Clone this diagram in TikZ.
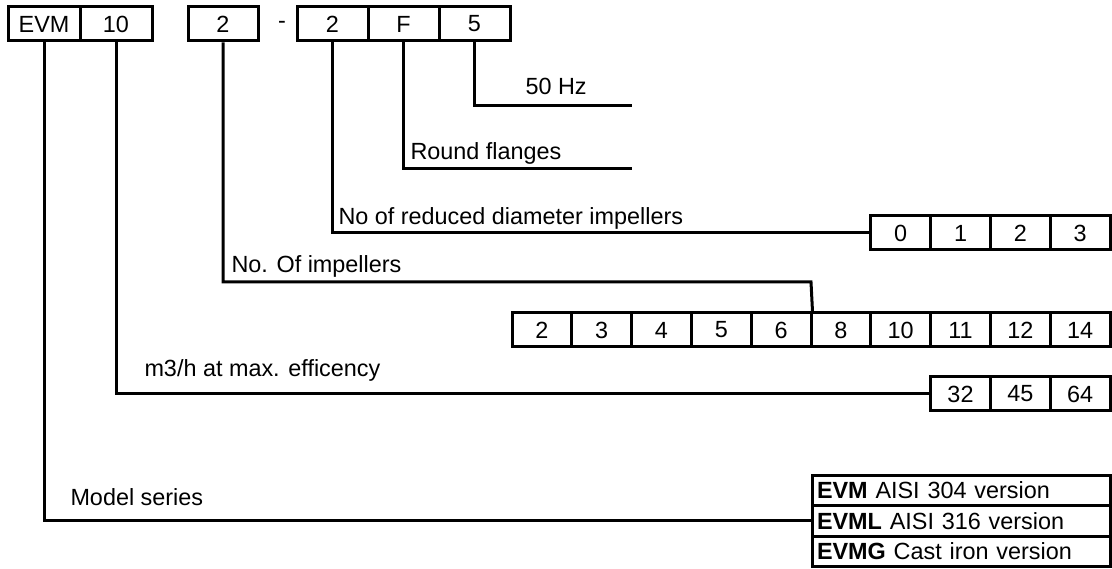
\documentclass[tikz,border=0pt]{standalone}
\usepackage{fontspec}
\setmainfont{Liberation Sans}
\newcommand{\lblfont}{\fontsize{23.4}{28}\selectfont}
\begin{document}
\begin{tikzpicture}[x=1pt,y=-1pt,line width=3pt,
  cell/.style={draw, inner sep=0pt, minimum height=34pt, font=\lblfont, anchor=center},
  rowcell/.style={draw, inner xsep=5pt, inner ysep=0pt, minimum height=30.5pt, minimum width=298pt, text width=288pt, align=left, font=\lblfont, anchor=center},
  lbl/.style={anchor=base west, inner sep=0pt, font=\lblfont},
  conn/.style={draw, line width=3pt}]
\fill[white] (0,0) rectangle (1112,569);
\useasboundingbox (0,0) rectangle (1112,569);
% top code boxes
\node[cell, minimum width=72pt] (evm) at (44,24) {EVM};
\node[cell, minimum width=72pt] (ten) at (116,24) {10};
\node[cell, minimum width=70pt] (nimp) at (223,24) {2};
\node[lbl, anchor=center] (dash) at (282,25) {-};
\node[cell, minimum width=71pt] (nred) at (332.5,24) {2};
\node[cell, minimum width=71pt] (flg) at (403.5,24) {F};
\node[cell, minimum width=71pt] (freq) at (474.5,24) {5};
% option rows
\foreach \v [count=\i] in {0,1,2,3}
  \node[cell, minimum width=59.8pt] (red\i) at ({512+59.8*(\i+5.5)},233) {\v};
\foreach \v [count=\i] in {2,3,4,5,6,8,10,11,12,14}
  \node[cell, minimum width=59.8pt] (imp\i) at ({512+59.8*(\i-0.5)},330) {\v};
\foreach \v [count=\i] in {32,45,64}
  \node[cell, minimum width=59.8pt] (cap\i) at ({512+59.8*(\i+6.5)},394) {\v};
\node[rowcell] (ser1) at (961,490.25) {\textbf{EVM} AISI 304 version};
\node[rowcell] (ser2) at (961,520.75) {\textbf{EVML} AISI 316 version};
\node[rowcell] (ser3) at (961,551.25) {\textbf{EVMG} Cast iron version};
% labels
\node[lbl] (lhz) at (524,95) {50 Hz};
\node[lbl] (lfl) at (409,160) {Round flanges};
\node[lbl] (lred) at (337,225) {No of reduced diameter impellers};
\node[lbl] (limp) at (230,273) {No. Of impellers};
\node[lbl] (lcap) at (143,377) {m3/h at max. efficency};
\node[lbl] (lser) at (69,505) {Model series};
% connectors
\coordinate (hzend) at (632,106);
\coordinate (flend) at (632,169);
\coordinate (impj) at (811,282);
\draw[conn] (freq.south) |- (hzend);
\draw[conn] (flg.south) |- (flend);
\draw[conn] (nred.south) |- (red1.west);
\draw[conn] (nimp.south) |- (impj) -- (imp5.north east);
\draw[conn] (ten.south) |- (cap1.west);
\draw[conn] (evm.south) |- (ser2.west);
\end{tikzpicture}
\end{document}
